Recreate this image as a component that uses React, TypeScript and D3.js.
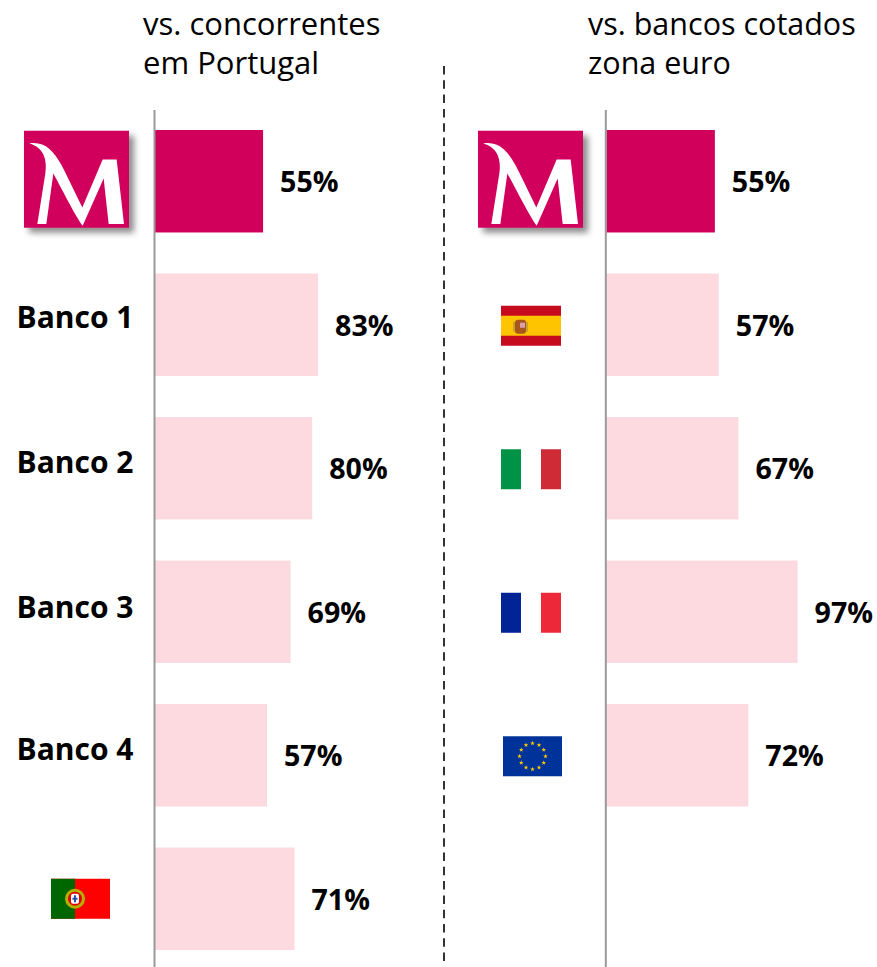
import React from "react";
import * as d3 from "d3";

const localLabels = ["Millennium", "Banco 1", "Banco 2", "Banco 3", "Banco 4", "Portugal"];
const localValues = [55, 83, 80, 69, 57, 71];
const euroLabels = ["Millennium", "Espanha", "Itália", "França", "Zona euro"];
const euroValues = [55, 57, 67, 97, 72];
const localTitle = ["vs. concorrentes", "em Portugal"];
const euroTitle = ["vs. bancos cotados", "zona euro"];

const WIDTH = 877;
const HEIGHT = 967;
const FONT = "'Open Sans', 'DejaVu Sans', sans-serif";
const PINK = "#d1005b";
const PALE = "#fcdae0";

const y = d3.scaleBand<number>().domain(d3.range(6)).range([130, 950]).paddingInner(0.286);
const xLocal = d3.scaleLinear().domain([0, 100]).range([155, 351.5]);
const xEuro = d3.scaleLinear().domain([0, 100]).range([606.5, 803.5]);

// the text labels don't sit on the bar centre in the original
const labelNudge = [0, -7, -6, -4, -6];

const Logo = ({ x, cy }: { x: number; cy: number }) => (
  <g transform={`translate(${x},${cy - 50.5})`}>
    <rect width={105} height={97} fill={PINK} filter="url(#logoShadow)" />
    {/* M drawn in zoomed pixels */}
    <path
      transform="scale(0.3333) translate(-72,-62)"
      fill="#fff"
      d="M88,100 C110,96 132,102 150,118 C172,138 188,170 202,200 L247,292 L308,148 L350,148 L372,342 L326,342 L311,205 L248,347 C225,315 190,245 160,190 L139,342 L112,342 L136,190 C142,150 132,112 88,100 Z"
    />
  </g>
);

const stars = d3.range(12).map((i) => (i * Math.PI) / 6);
const starPath = d3.symbol(d3.symbolStar, 7)() as string;

const FlagEs = () => (
  <g>
    <rect width={60} height={40} fill="#c60b1e" />
    <rect y={10} width={60} height={20} fill="#ffc400" />
    <rect x={14} y={14} width={11} height={14} rx={3} fill="#a8561c" />
    <rect x={12} y={16} width={2} height={10} fill="#c9a227" />
    <rect x={25} y={16} width={2} height={10} fill="#c9a227" />
    <rect x={19} y={17} width={5} height={5} fill="#d9a0b0" />
  </g>
);

const FlagIt = () => (
  <g>
    <rect width={20} height={40} fill="#009246" />
    <rect x={40} width={20} height={40} fill="#ce2b37" />
  </g>
);

const FlagFr = () => (
  <g>
    <rect width={20} height={40} fill="#002395" />
    <rect x={40} width={20} height={40} fill="#ed2939" />
  </g>
);

const FlagEu = () => (
  <g>
    <rect width={59} height={40} fill="#003399" />
    {stars.map((a, i) => (
      <path
        key={i}
        d={starPath}
        fill="#ffcc00"
        transform={`translate(${29.5 + 13 * Math.sin(a)},${20 - 13 * Math.cos(a)})`}
      />
    ))}
  </g>
);

const FlagPt = () => (
  <g>
    <rect width={59} height={40} fill="#ff0000" />
    <rect width={24} height={40} fill="#006600" />
    <circle cx={24} cy={20} r={10} fill="#b5b000" />
    <circle cx={24} cy={20} r={7} fill="#e00000" />
    <rect x={20} y={15} width={8} height={10} rx={2} fill="#fff" />
    <rect x={23} y={16.5} width={2} height={7} fill="#2a4fa0" />
    <rect x={21.5} y={19} width={5} height={2} fill="#2a4fa0" />
  </g>
);

const euroFlags = [null, <FlagEs />, <FlagIt />, <FlagFr />, <FlagEu />];

const Title = ({ lines, x, size }: { lines: string[]; x: number; size: number }) => (
  <text fontFamily={FONT} fontSize={size} fill="#000">
    {lines.map((line, i) => (
      <tspan key={line} x={x} y={35 + i * 39}>
        {line}
      </tspan>
    ))}
  </text>
);

export default function App() {
  const h = y.bandwidth();
  const mid = (i: number) => (y(i) as number) + h / 2;
  const value = (x: number, v: number, i: number) => (
    <text
      x={x + 17}
      y={mid(i) + 1}
      dy="0.35em"
      fontFamily={FONT}
      fontWeight={700}
      fontSize={28.6}
      fill="#000"
    >
      {v}%
    </text>
  );

  return (
    <svg
      width={WIDTH}
      height={HEIGHT}
      style={{ position: "absolute", left: 0, top: 0, background: "#fff" }}
    >
      <defs>
        <filter id="logoShadow" x="-10%" y="-10%" width="130%" height="130%">
          <feDropShadow dx={5} dy={5} stdDeviation={3} floodColor="#000" floodOpacity={0.45} />
        </filter>
      </defs>

      <Title lines={localTitle} x={143} size={31} />
      <Title lines={euroTitle} x={588} size={30.5} />

      <line x1={444} x2={444} y1={66} y2={HEIGHT} stroke="#333" strokeWidth={2} strokeDasharray="8.5 5.8" />

      {localValues.map((v, i) => (
        <g key={localLabels[i]}>
          <rect
            x={xLocal(0)}
            y={y(i)}
            width={xLocal(v) - xLocal(0)}
            height={h}
            fill={i === 0 ? PINK : PALE}
          />
          {value(xLocal(v), v, i)}
        </g>
      ))}
      {euroValues.map((v, i) => (
        <g key={euroLabels[i]}>
          <rect
            x={xEuro(0)}
            y={y(i)}
            width={xEuro(v) - xEuro(0)}
            height={h}
            fill={i === 0 ? PINK : PALE}
          />
          {value(xEuro(v), v, i)}
        </g>
      ))}

      <line x1={154.5} x2={154.5} y1={110} y2={HEIGHT} stroke="#999" strokeWidth={2} />
      <line x1={605.8} x2={605.8} y1={110} y2={HEIGHT} stroke="#999" strokeWidth={2} />

      <Logo x={24} cy={mid(0)} />
      <Logo x={478} cy={mid(0)} />

      {localLabels.slice(1, 5).map((label, i) => (
        <text
          key={label}
          x={16.5}
          y={mid(i + 1) + labelNudge[i + 1]}
          dy="0.35em"
          fontFamily={FONT}
          fontWeight={700}
          fontSize={30}
          fill="#000"
        >
          {label}
        </text>
      ))}

      <g transform={`translate(51,${mid(5) - 20})`}>
        <FlagPt />
      </g>
      {euroFlags.map((flag, i) =>
        flag ? (
          <g key={i} transform={`translate(${i === 4 ? 503 : 501},${mid(i) - 19})`}>
            {flag}
          </g>
        ) : null
      )}
    </svg>
  );
}
